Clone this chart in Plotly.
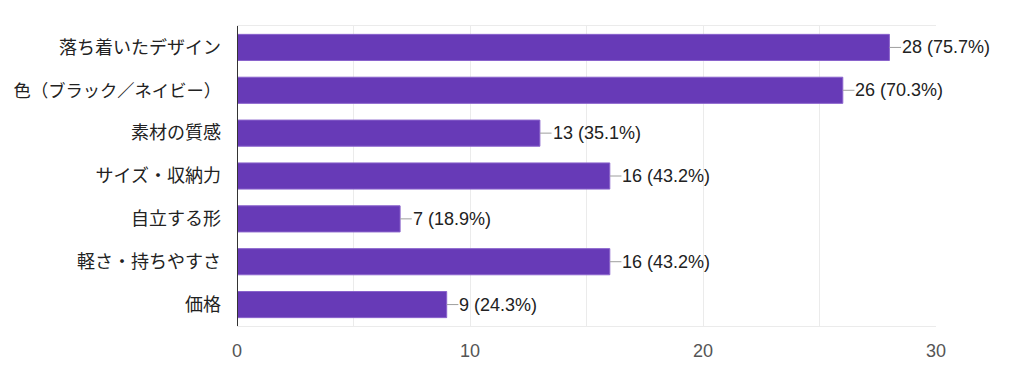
import plotly.graph_objects as go

categories = ["落ち着いたデザイン", "色（ブラック／ネイビー）", "素材の質感", "サイズ・収納力",
              "自立する形", "軽さ・持ちやすさ", "価格"]
counts = [28, 26, 13, 16, 7, 16, 9]
percents = ["75.7%", "70.3%", "35.1%", "43.2%", "18.9%", "43.2%", "24.3%"]
tick_vals = [0, 10, 20, 30]

FONT = "Arial, 'Liberation Sans', 'Noto Sans CJK JP', sans-serif"
fig = go.Figure()
fig.add_trace(go.Bar(
    y=categories, x=counts, orientation="h",
    marker=dict(color="#673ab7", line=dict(color="#8a63cc", width=1)),
    hoverinfo="skip",
))

lead = 0.5
for c, v, p in zip(categories, counts, percents):
    fig.add_shape(type="line", xref="x", yref="y", x0=v, x1=v + lead, y0=c, y1=c,
                  line=dict(color="#9e9e9e", width=1))
    fig.add_annotation(x=v + lead, y=c, xref="x", yref="y", text=f"{v} ({p})",
                       showarrow=False, xanchor="left", xshift=-1,
                       font=dict(family=FONT, size=18, color="#222222"))

# long labels get a slightly smaller size so they fit in the margin
tick_text = [f'<span style="font-size:17.3px">{c}</span>' if len(c) > 10 else c for c in categories]

fig.update_layout(
    width=1024, height=377,
    margin=dict(l=229, r=96, t=18, b=59, autoexpand=False),
    paper_bgcolor="white", plot_bgcolor="white",
    bargap=0.39, showlegend=False,
    font=dict(family=FONT),
)
fig.update_xaxes(range=[0, 30], tickvals=tick_vals, showgrid=True, gridcolor="#ebebeb",
                 minor=dict(dtick=5, showgrid=True, gridcolor="#ebebeb"),
                 tickfont=dict(size=18, color="#555555"), ticks="", zeroline=False,
                 showline=True, linecolor="#ebebeb", mirror=True, ticklabelstandoff=8,
                 automargin=False)
fig.update_yaxes(categoryorder="array", categoryarray=categories, autorange="reversed",
                 tickmode="array", tickvals=categories, ticktext=tick_text,
                 showgrid=False, zeroline=False, ticks="",
                 tickfont=dict(size=18, color="#222222"), ticklabelstandoff=15,
                 showline=False, automargin=False)
fig.add_shape(type="line", xref="x", yref="paper", x0=0, x1=0, y0=0, y1=1,
              line=dict(color="#333333", width=2))

fig.write_html("out.html")
